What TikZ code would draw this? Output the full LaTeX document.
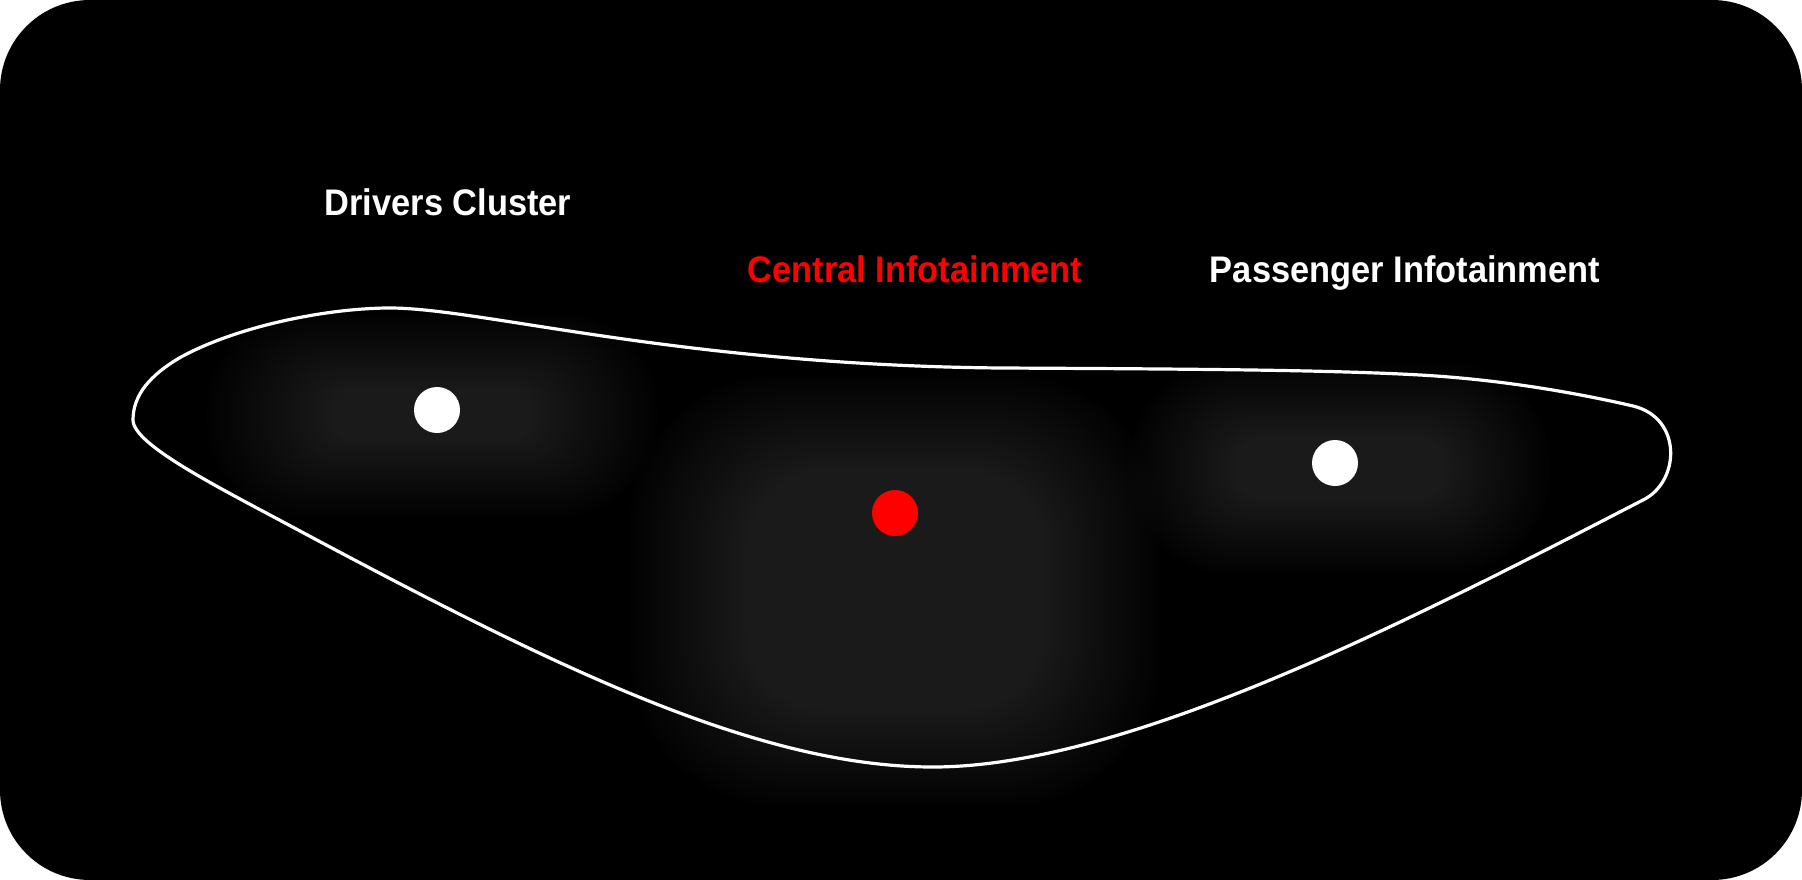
\documentclass[tikz,border=0pt]{standalone}
\usepackage{fontspec}
\setmainfont{Liberation Sans}[FakeStretch=0.93]
\definecolor{infored}{HTML}{FF0000}

\begin{document}
\begin{tikzpicture}[
    x=1pt, y=-1pt,
    panel/.style={fill=black, rounded corners=90pt},
    glowlayer/.style={fill=white, fill opacity=0.0059},
    outline/.style={draw=white, line width=3.2pt, line join=round},
    dot/.style={circle, fill=white, inner sep=0pt, minimum size=46pt},
    reddot/.style={dot, fill=infored},
    zonelabel/.style={font=\bfseries\fontsize{37}{44}\selectfont, text=white, anchor=base}
]
    \useasboundingbox (0,0) rectangle (1802,880);
    \fill[white] (0,0) rectangle (1802,880);
    \fill[panel] (0,0) rectangle (1802,880);

    % Glows (stacked soft layers)
    \foreach \cx/\cy/\wo/\ho/\wi/\hi/\rf in {432/415/225/100/100/25/0.95,
                                            895/590/265/215/150/120/0.7,
                                            1339/468/210/105/105/30/0.95} {
        \foreach \k in {0,...,24} {
            \pgfmathsetmacro\w{\wo-(\wo-\wi)*\k/24}
            \pgfmathsetmacro\h{\ho-(\ho-\hi)*\k/24}
            \pgfmathsetmacro\r{\rf*min(\w,\h)}
            \fill[glowlayer, rounded corners=\r pt] (\cx-\w,\cy-\h) rectangle (\cx+\w,\cy+\h);
        }
    }

    % Dashboard outline
    \coordinate (tip) at (133,420);
    \coordinate (nose) at (1643,500);
    \coordinate (low) at (933,767);
    \draw[outline] (tip)
        .. controls (133,395) and (150,375) .. (181,357)
        .. controls (240,325) and (330,308) .. (390,308)
        .. controls (480,308) and (680,365) .. (1000,368)
        .. controls (1200,369) and (1330,370) .. (1420,375)
        .. controls (1510,380) and (1590,396) .. (1633,406)
        .. controls (1683,418) and (1680,482) .. (nose)
        .. controls (1420,615) and (1130,767) .. (low)
        .. controls (760,767) and (560,670) .. (300,531)
        .. controls (220,488) and (133,445) .. (tip) -- cycle;

    % Nodes
    \node[dot] (drivers) at (437,410) {};
    \node[reddot] (central) at (895,513) {};
    \node[dot] (passenger) at (1335,463) {};

    \node[zonelabel] (driverslbl) at (448,215) {Drivers Cluster};
    \node[zonelabel, text=infored] (centrallbl) at (915,282) {Central Infotainment};
    \node[zonelabel] (passengerlbl) at (1405,282) {Passenger Infotainment};

\end{tikzpicture}
\end{document}
